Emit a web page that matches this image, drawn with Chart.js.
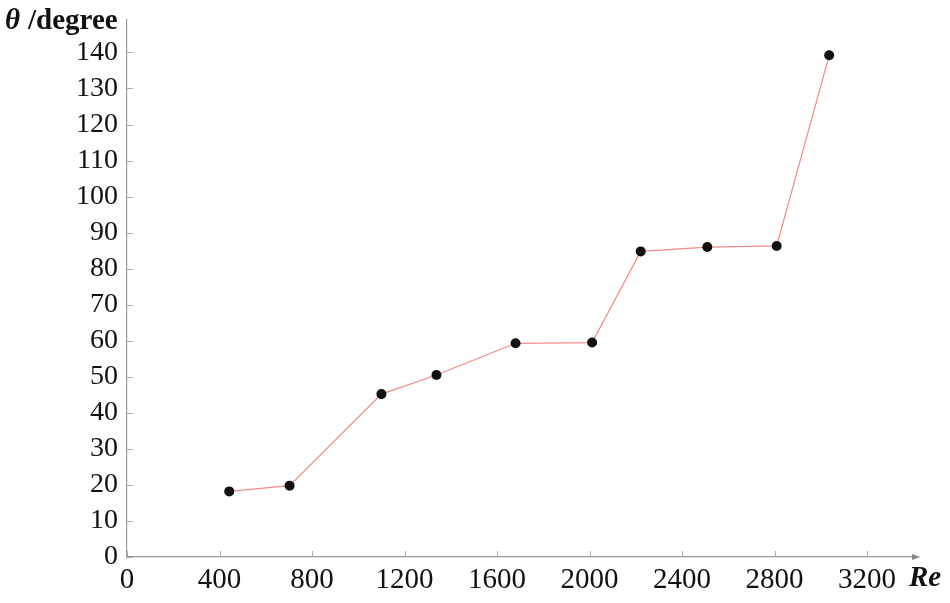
<!DOCTYPE html>
<html>
<head>
<meta charset="utf-8">
<script src="https://cdn.jsdelivr.net/npm/chart.js@4.4.1/dist/chart.umd.min.js"></script>
<style>
  html, body { margin: 0; padding: 0; background: #fff; }
  #wrap { width: 950px; height: 603px; }
</style>
</head>
<body>
<div id="wrap"><canvas id="thetaChart"></canvas></div>
<script>
// Re vs theta data
const reValues = [442, 703, 1100, 1338, 1680, 2011, 2221, 2509, 2809, 3036];
const thetaValues = [18.2, 19.8, 45.2, 50.5, 59.3, 59.5, 84.8, 86.0, 86.3, 139.2];
const xTickStep = 400;
const yTickStep = 10;

const serif = '"Liberation Serif", "Times New Roman", serif';

// titles, inward tick marks, arrow head
const axisDecor = {
    id: 'axisDecor',
    afterDraw(chart) {
        const { ctx, chartArea, scales } = chart;
        ctx.save();

        // small inward ticks
        ctx.strokeStyle = '#aaa';
        ctx.lineWidth = 1;
        ctx.beginPath();
        scales.x.ticks.forEach(t => {
            const px = Math.round(scales.x.getPixelForValue(t.value)) + 0.5;
            ctx.moveTo(px, chartArea.bottom);
            ctx.lineTo(px, chartArea.bottom - 6);
        });
        scales.y.ticks.forEach(t => {
            const py = Math.round(scales.y.getPixelForValue(t.value)) + 0.5;
            ctx.moveTo(chartArea.left, py);
            ctx.lineTo(chartArea.left + 6, py);
        });
        ctx.stroke();

        ctx.fillStyle = '#111';
        ctx.textBaseline = 'alphabetic';
        ctx.textAlign = 'left';
        ctx.font = 'italic bold 29px ' + serif;
        ctx.fillText('\u03B8', 5, 29);
        ctx.font = 'bold 29px ' + serif;
        ctx.fillText('/degree', 28, 29);

        ctx.font = 'italic bold 29px ' + serif;
        ctx.fillText('Re', 909, 586);

        // arrow at end of x axis
        ctx.fillStyle = '#888';
        const ax = chartArea.right, ay = chartArea.bottom;
        ctx.beginPath();
        ctx.moveTo(ax + 2, ay);
        ctx.lineTo(ax - 6, ay - 3);
        ctx.lineTo(ax - 6, ay + 3);
        ctx.closePath();
        ctx.fill();
        ctx.restore();
    }
};

new Chart(document.getElementById('thetaChart'), {
    type: 'line',
    data: {
        datasets: [{
            data: reValues.map((x, i) => ({ x: x, y: thetaValues[i] })),
            borderColor: '#f08a8a',
            borderWidth: 1.2,
            pointBackgroundColor: '#111',
            pointBorderColor: '#111',
            pointRadius: 5,
            pointBorderWidth: 0,
            tension: 0,
            fill: false
        }]
    },
    options: {
        responsive: true,
        maintainAspectRatio: false,
        animation: false,
        layout: { padding: { left: 0, top: 20, right: 32, bottom: 0 } },
        plugins: {
            legend: { display: false },
            tooltip: { enabled: false }
        },
        scales: {
            x: {
                type: 'linear',
                min: 0,
                max: 3420,
                border: { display: true, color: '#999', width: 1.2 },
                grid: { display: false, drawTicks: false },
                ticks: {
                    stepSize: xTickStep,
                    includeBounds: false,
                    maxRotation: 0,
                    autoSkip: false,
                    padding: 6,
                    color: '#111',
                    font: { family: serif, size: 29 },
                    callback: v => String(v)
                },
                afterFit(scale) {
                    scale.height = 46;
                    scale.paddingLeft = 0;
                    scale.paddingRight = 0;
                }
            },
            y: {
                min: 0,
                max: 149,
                border: { display: true, color: '#999', width: 1.2 },
                grid: { display: false, drawTicks: false },
                ticks: {
                    stepSize: yTickStep,
                    includeBounds: false,
                    autoSkip: false,
                    padding: 9,
                    color: '#111',
                    font: { family: serif, size: 28 }
                },
                afterFit(scale) {
                    scale.width = 127;
                    scale.paddingTop = 0;
                    scale.paddingBottom = 0;
                }
            }
        }
    },
    plugins: [axisDecor]
});
</script>
</body>
</html>
